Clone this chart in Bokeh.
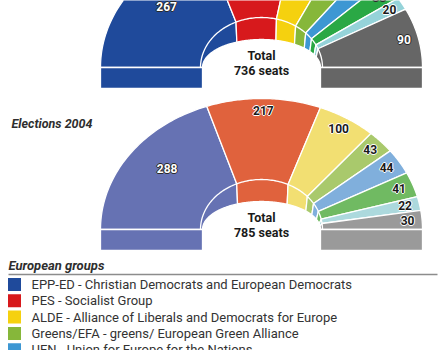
import numpy as np
from bokeh.plotting import figure
from bokeh.models import Range1d
from bokeh.core.properties import value
from bokeh.embed import file_html
from bokeh.resources import INLINE

# ---------------- data ----------------
seats_2009 = [267, 159, 81, 51, 35, 33, 20, 90]
seats_2004 = [288, 217, 100, 43, 44, 41, 22, 30]
colors_2009 = ["#1f4a9b", "#d7191c", "#f5d10f", "#86b73a", "#3d97d3", "#2aa845", "#95d3d9", "#666666"]
colors_2004 = ["#6672b3", "#e0623d", "#f2df72", "#a9c96c", "#80afdc", "#70ba62", "#acd9dd", "#9a9a9a"]
totals_text = ["736 seats", "785 seats"]
election_title = "Elections 2004"
legend_title = "European groups"
legend_labels = [
    "EPP-ED - Christian Democrats and European Democrats",
    "PES - Socialist Group",
    "ALDE - Alliance of Liberals and Democrats for Europe",
    "Greens/EFA - greens/ European Green Alliance",
    "UEN - Union for Europe for the Nations",
]
legend_colors = colors_2009[:5]

# ---------------- layout ----------------
W, H = 441, 350
FONT = value("Roboto")
CX = 261
A, B = 161, 131        # outer half-ellipse
MA, MB = 61, 50        # inner white arc
HA, HB = 59, 28        # hole
DEPTH = 21             # rectangular foot below baseline

p = figure(width=W, height=H, x_range=Range1d(0, W), y_range=Range1d(H, 0),
           output_backend="svg", toolbar_location=None, min_border=0,
           x_axis_location=None, y_axis_location=None)
p.grid.visible = False
p.outline_line_color = None
p.background_fill_color = "white"
p.border_fill_color = "white"


def outer_pt(phi, cy):
    r = 1.0 / np.sqrt((np.cos(phi) / A) ** 2 + (np.sin(phi) / B) ** 2)
    return CX + r * np.cos(phi), cy - r * np.sin(phi), r


def param_pt(t, a, b, cy):
    return CX + a * np.cos(t), cy - b * np.sin(t)


def luminance(hexc):
    h = hexc.lstrip("#")
    r, g, b = (int(h[i:i + 2], 16) / 255 for i in (0, 2, 4))
    return 0.299 * r + 0.587 * g + 0.114 * b


HALO = [(-1, 0), (1, 0), (0, -1), (0, 1)]


def hemicycle(seats, colors, cy, total_label):
    total = sum(seats)
    bounds = np.pi - np.pi * np.concatenate([[0], np.cumsum(seats)]) / total
    xs_list, ys_list = [], []
    for i in range(len(seats)):
        p0, p1 = bounds[i], bounds[i + 1]
        ts = np.linspace(p0, p1, 60)
        xo, yo, _ = outer_pt(ts, cy)
        xm1, ym1 = param_pt(p1, MA, MB, cy)
        xh, yh = param_pt(ts[::-1], HA, HB, cy)
        xm0, ym0 = param_pt(p0, MA, MB, cy)
        xs_list.append(np.concatenate([xo, [xm1], xh, [xm0]]))
        ys_list.append(np.concatenate([yo, [ym1], yh, [ym0]]))
    p.patches(xs_list, ys_list, fill_color=colors, line_color="white", line_width=1.3)
    # feet
    p.quad(left=[CX - A, CX + HA], right=[CX - HA, CX + A], top=[cy, cy],
           bottom=[cy + DEPTH, cy + DEPTH], fill_color=[colors[0], colors[-1]],
           line_color="white", line_width=1.3)
    # inner white arc
    tt = np.linspace(np.pi, 0, 120)
    xm, ym = param_pt(tt, MA, MB, cy)
    p.line(xm, ym, line_color="white", line_width=1.3)
    # labels
    lxs, lys, ltxt, lcol, lhalo = [], [], [], [], []
    for i, s in enumerate(seats):
        mid = (bounds[i] + bounds[i + 1]) / 2
        k = 0.75 if s / total > 1 / 3 else 0.91
        xo, yo, r = outer_pt(mid, cy)
        lxs.append(CX + k * r * np.cos(mid))
        lys.append(cy - k * r * np.sin(mid))
        ltxt.append(str(s))
        dark = luminance(colors[i]) < 0.5
        lcol.append("white" if dark else "#1a1a1a")
        lhalo.append("#2a2a2a" if dark else "white")
    for dx, dy in HALO:
        p.text(x=lxs, y=lys, text=ltxt, text_color=lhalo, text_font=FONT,
               text_font_size="12px", text_font_style="bold", text_align="center",
               text_baseline="middle", x_offset=dx, y_offset=dy)
    p.text(x=lxs, y=lys, text=ltxt, text_color=lcol, text_font=FONT,
           text_font_size="12px", text_font_style="bold", text_align="center",
           text_baseline="middle")
    # total
    p.text(x=[CX, CX], y=[cy - 12, cy + 3], text=["Total", total_label],
           text_color="#1a1a1a", text_font=FONT, text_font_size="12.5px",
           text_font_style="bold", text_align="center", text_baseline="middle")


hemicycle(seats_2009, colors_2009, 67, totals_text[0])
hemicycle(seats_2004, colors_2004, 229, totals_text[1])

p.text(x=[11], y=[123], text=[election_title], text_color="#2e2e2e", text_font=FONT,
       text_font_size="12.5px", text_font_style="bold italic", text_align="left",
       text_baseline="middle")

# legend
p.text(x=[8], y=[265], text=[legend_title], text_color="#2e2e2e", text_font=FONT,
       text_font_size="13px", text_font_style="bold italic", text_align="left",
       text_baseline="middle")
p.segment(x0=[8], y0=[274], x1=[437], y1=[274], line_color="#8c8c8c", line_width=1.5)
rows_y = [284 + i * 16.3 for i in range(len(legend_labels))]
p.rect(x=[14] * len(rows_y), y=rows_y, width=13, height=13, fill_color=legend_colors,
       line_color=None)
p.text(x=[31] * len(rows_y), y=rows_y, text=legend_labels, text_color="#333333",
       text_font=FONT, text_font_size="13px", text_align="left", text_baseline="middle")

open("out.html", "w").write(file_html(p, INLINE))
